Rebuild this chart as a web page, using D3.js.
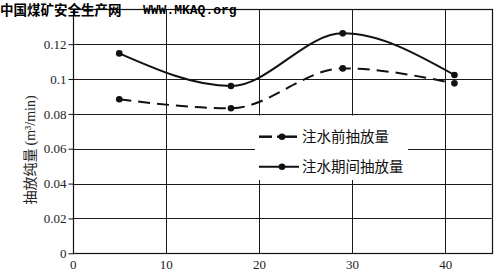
<!DOCTYPE html>
<html><head><meta charset="utf-8">
<script src="https://cdn.jsdelivr.net/npm/d3@7"></script>
<style>body{margin:0;background:#fff}svg{display:block}</style>
</head><body>
<script>
const xValues = [5, 17, 29, 41];
const beforeWater = [0.0884, 0.0832, 0.1061, 0.0975];
const duringWater = [0.1147, 0.0960, 0.1262, 0.1023];
const seriesNames = ["注水前抽放量", "注水期间抽放量"];
const xTicks = [0, 10, 20, 30, 40];
const yTicks = [0, 0.02, 0.04, 0.06, 0.08, 0.1, 0.12];
const yTickLabels = ["0", "0.02", "0.04", "0.06", "0.08", "0.1", "0.12"];
const yTitle = "抽放纯量";
const yUnit = "(m³/min)";
const header = "中国煤矿安全生产网";
const headerUrl = "WWW.MKAQ.org";

const W = 500, H = 272;
const svg = d3.select("body").append("svg").attr("width", W).attr("height", H);
const x = d3.scaleLinear().domain([0, 45]).range([72.7, 491.7]);
const y = d3.scaleLinear().domain([0, 0.14]).range([253.3, 9.3]);
const serif = "'Liberation Serif','DejaVu Serif',serif";
const cjk = "'Noto Sans CJK SC','Noto Sans CJK JP',sans-serif";

// grid
const g = svg.append("g");
g.selectAll("line.h").data(yTicks.filter(d => d > 0)).join("line")
  .attr("x1", x(0)).attr("x2", x(45)).attr("y1", d => Math.round(y(d)) + 0.5).attr("y2", d => Math.round(y(d)) + 0.5)
  .attr("stroke", "#1a1a1a").attr("stroke-width", 1);
g.selectAll("line.v").data(xTicks.filter(d => d > 0)).join("line")
  .attr("y1", y(0)).attr("y2", y(0.14)).attr("x1", d => Math.round(x(d)) + 0.5).attr("x2", d => Math.round(x(d)) + 0.5)
  .attr("stroke", "#1a1a1a").attr("stroke-width", 1);
// frame
svg.append("rect").attr("x", Math.round(x(0)) + 0.5).attr("y", Math.round(y(0.14)) + 0.5)
  .attr("width", Math.round(x(45)) - Math.round(x(0))).attr("height", Math.round(y(0)) - Math.round(y(0.14)))
  .attr("fill", "none").attr("stroke", "#111").attr("stroke-width", 1.2);

// y axis ticks and labels
const yAxis = d3.axisLeft(y).tickValues(yTicks).tickSize(5).tickPadding(2)
  .tickFormat((d, i) => yTickLabels[i]);
const ya = svg.append("g").attr("transform", `translate(${Math.round(x(0)) + 0.5},0)`).call(yAxis);
ya.select(".domain").remove();
ya.selectAll("text").attr("font-family", serif).attr("font-size", 13).attr("fill", "#222");
ya.selectAll("line").attr("stroke", "#111");

// x axis labels
const xAxis = d3.axisBottom(x).tickValues(xTicks).tickSize(0).tickPadding(6).tickFormat(d3.format("d"));
const xa = svg.append("g").attr("transform", `translate(0,${y(0)})`).call(xAxis);
xa.select(".domain").remove();
xa.selectAll("text").attr("font-family", serif).attr("font-size", 13).attr("fill", "#222");

// y title
const yt = svg.append("text").attr("transform", "translate(35,150) rotate(-90)")
  .attr("text-anchor", "middle").attr("fill", "#222");
yt.append("tspan").attr("font-family", cjk).attr("font-size", 14).text(yTitle + " ");
yt.append("tspan").attr("font-family", serif).attr("font-size", 14).text(yUnit);

// legend box
const lx0 = 255, ly0 = 115.5, lx1 = 408, ly1 = 180;
svg.append("rect").attr("x", lx0).attr("y", ly0).attr("width", lx1 - lx0).attr("height", ly1 - ly0).attr("fill", "#fff");

// lines
const curve = d3.curveMonotoneX;
const line = d3.line().x((d, i) => x(xValues[i])).y(d => y(d)).curve(curve);
const series = [
  {name: seriesNames[0], values: beforeWater, dash: "12,7"},
  {name: seriesNames[1], values: duringWater, dash: null}
];
series.forEach(s => {
  svg.append("path").attr("d", line(s.values)).attr("fill", "none").attr("stroke", "#111")
    .attr("stroke-width", 2).attr("stroke-dasharray", s.dash);
  svg.selectAll(null).data(s.values).join("circle")
    .attr("cx", (d, i) => x(xValues[i])).attr("cy", d => y(d)).attr("r", 3.3).attr("fill", "#111");
});

// legend
const legY = [136.7, 166.7];
series.forEach((s, i) => {
  const ly = legY[i];
  if (s.dash) {
    svg.append("line").attr("x1", 259).attr("x2", 272).attr("y1", ly).attr("y2", ly).attr("stroke", "#111").attr("stroke-width", 2.5);
    svg.append("line").attr("x1", 277).attr("x2", 297).attr("y1", ly).attr("y2", ly).attr("stroke", "#111").attr("stroke-width", 2.5);
  } else {
    svg.append("line").attr("x1", 259).attr("x2", 299).attr("y1", ly).attr("y2", ly).attr("stroke", "#111").attr("stroke-width", 2);
  }
  svg.append("circle").attr("cx", 282).attr("cy", ly).attr("r", 3.3).attr("fill", "#111");
  svg.append("text").attr("x", 302).attr("y", ly + 5).attr("font-family", cjk).attr("font-size", 14.5)
    .attr("fill", "#111").text(s.name);
});

// header
svg.append("text").attr("x", 0).attr("y", 14.5).attr("font-family", cjk).attr("font-weight", "bold")
  .attr("font-size", 13.5).attr("fill", "#000").text(header);
svg.append("text").attr("x", 143).attr("y", 13.5).attr("font-family", "'Liberation Mono','DejaVu Sans Mono',monospace")
  .attr("font-weight", "bold").attr("font-size", 13).attr("fill", "#000").text(headerUrl);
</script>
</body></html>
